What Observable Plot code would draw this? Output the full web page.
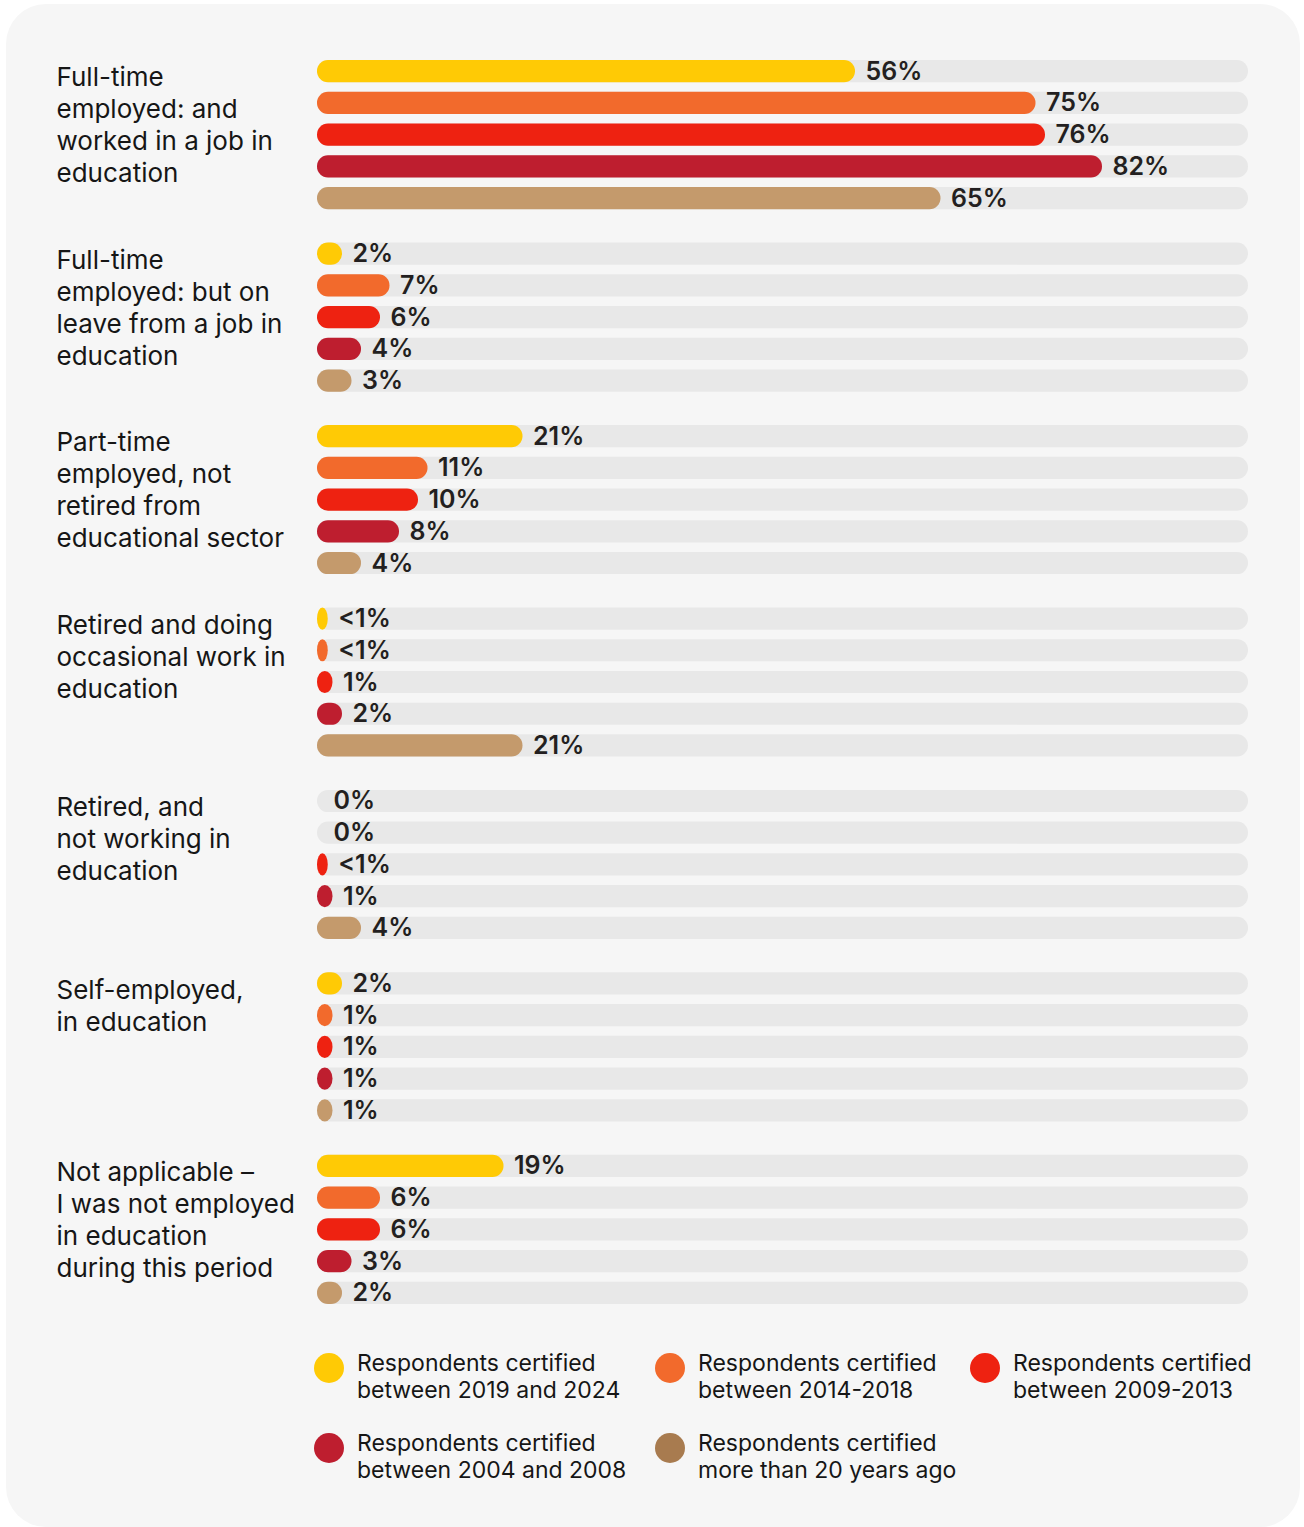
<!DOCTYPE html>
<html>
<head>
<meta charset="utf-8">
<script src="https://cdn.jsdelivr.net/npm/d3@7"></script>
<script src="https://cdn.jsdelivr.net/npm/@observablehq/plot@0.6"></script>
<style>
  html, body { margin: 0; padding: 0; background: #ffffff; }
  body { width: 1304px; height: 1527px; position: relative; overflow: hidden; font-family: Inter, "Noto Sans", sans-serif; }
  #card { position: absolute; left: 6px; top: 4px; width: 1294px; height: 1523px; border-radius: 40px; background: #f6f6f6; }
  #chart { position: absolute; left: 0; top: 0; }
  #legend { position: absolute; left: 314px; top: 1350px; width: 980px; }
  .item { position: absolute; display: flex; align-items: flex-start; }
  .dot { width: 30px; height: 30px; border-radius: 50%; margin-top: 3px; flex: none; }
  .lab { margin-left: 13px; font-size: 23px; line-height: 27px; color: #161616; white-space: nowrap; }
</style>
</head>
<body>
<div id="card"></div>
<div id="chart"></div>
<div id="legend"></div>
<script>
const categories = [
  "Full-time\nemployed: and\nworked in a job in\neducation",
  "Full-time\nemployed: but on\nleave from a job in\neducation",
  "Part-time\nemployed, not\nretired from\neducational sector",
  "Retired and doing\noccasional work in\neducation",
  "Retired, and\nnot working in\neducation",
  "Self-employed,\nin education",
  "Not applicable –\nI was not employed\nin education\nduring this period"
];
const series = ["2019-2024", "2014-2018", "2009-2013", "2004-2008", "20+ years ago"];
const legendLabels = [
  "Respondents certified\nbetween 2019 and 2024",
  "Respondents certified\nbetween 2014-2018",
  "Respondents certified\nbetween 2009-2013",
  "Respondents certified\nbetween 2004 and 2008",
  "Respondents certified\nmore than 20 years ago"
];
const colors = ["#ffca05", "#f26a2c", "#ee2211", "#be1e2f", "#c49a6c"];
const legendColors = ["#ffca05", "#f26a2c", "#ee2211", "#be1e2f", "#a87b4f"];
// values per series, in category order; 0.5 stands for "<1%"
const v2019 = [56, 2, 21, 0.5, 0, 2, 19];
const v2014 = [75, 7, 11, 0.5, 0, 1, 6];
const v2009 = [76, 6, 10, 1, 0.5, 1, 6];
const v2004 = [82, 4, 8, 2, 1, 1, 3];
const v20plus = [65, 3, 4, 21, 4, 1, 2];
const trackMax = 98;

const allValues = [v2019, v2014, v2009, v2004, v20plus];
const data = [];
series.forEach((s, si) => {
  categories.forEach((c, ci) => {
    const v = allValues[si][ci];
    data.push({category: c, series: s, value: v, label: v > 0 && v < 1 ? "<1%" : v + "%"});
  });
});

const chart = Plot.plot({
  width: 1304,
  height: 1330,
  marginLeft: 317,
  marginRight: 37,
  marginTop: 60,
  marginBottom: 26,
  facet: {marginTop: 0, marginBottom: 0, marginLeft: 0, marginRight: 0},
  style: {background: "transparent", fontFamily: "Inter, 'Noto Sans', sans-serif", color: "#231f20"},
  x: {domain: [0, 100], axis: null},
  y: {domain: series, axis: null, paddingInner: 0.3, paddingOuter: 0, round: false},
  fy: {domain: categories, axis: null, paddingInner: 0.1825, paddingOuter: 0, round: false},
  color: {domain: series, range: colors},
  marks: [
    Plot.barX(data, {x1: 0, x2: trackMax, y: "series", fy: "category", fill: "#e8e8e8", rx: 11}),
    Plot.barX(data.filter(d => d.value > 0), {x1: 0, x2: "value", y: "series", fy: "category", fill: "series", rx: 11, insetRight: -6}),
    Plot.text(data, {x: "value", y: "series", fy: "category", text: "label", textAnchor: "start", dx: 16, fontSize: 25, fontWeight: 600, fill: "#231f20"}),
    Plot.text(categories, {fy: d => d, text: d => d, frameAnchor: "top-left", textAnchor: "start", lineAnchor: "top", dx: -261, dy: 3, fontSize: 26, lineHeight: 32 / 26, fill: "#161616"})
  ]
});
document.getElementById("chart").appendChild(chart);

const legendPos = [[0, 0], [341, 0], [656, 0], [0, 80], [341, 80]];
const leg = document.getElementById("legend");
legendLabels.forEach((t, i) => {
  const it = document.createElement("div");
  it.className = "item";
  it.style.left = legendPos[i][0] + "px";
  it.style.top = legendPos[i][1] + "px";
  const dot = document.createElement("div");
  dot.className = "dot";
  dot.style.background = legendColors[i];
  const lab = document.createElement("div");
  lab.className = "lab";
  lab.innerHTML = t.split("\n").join("<br>");
  it.appendChild(dot);
  it.appendChild(lab);
  leg.appendChild(it);
});
</script>
</body>
</html>
